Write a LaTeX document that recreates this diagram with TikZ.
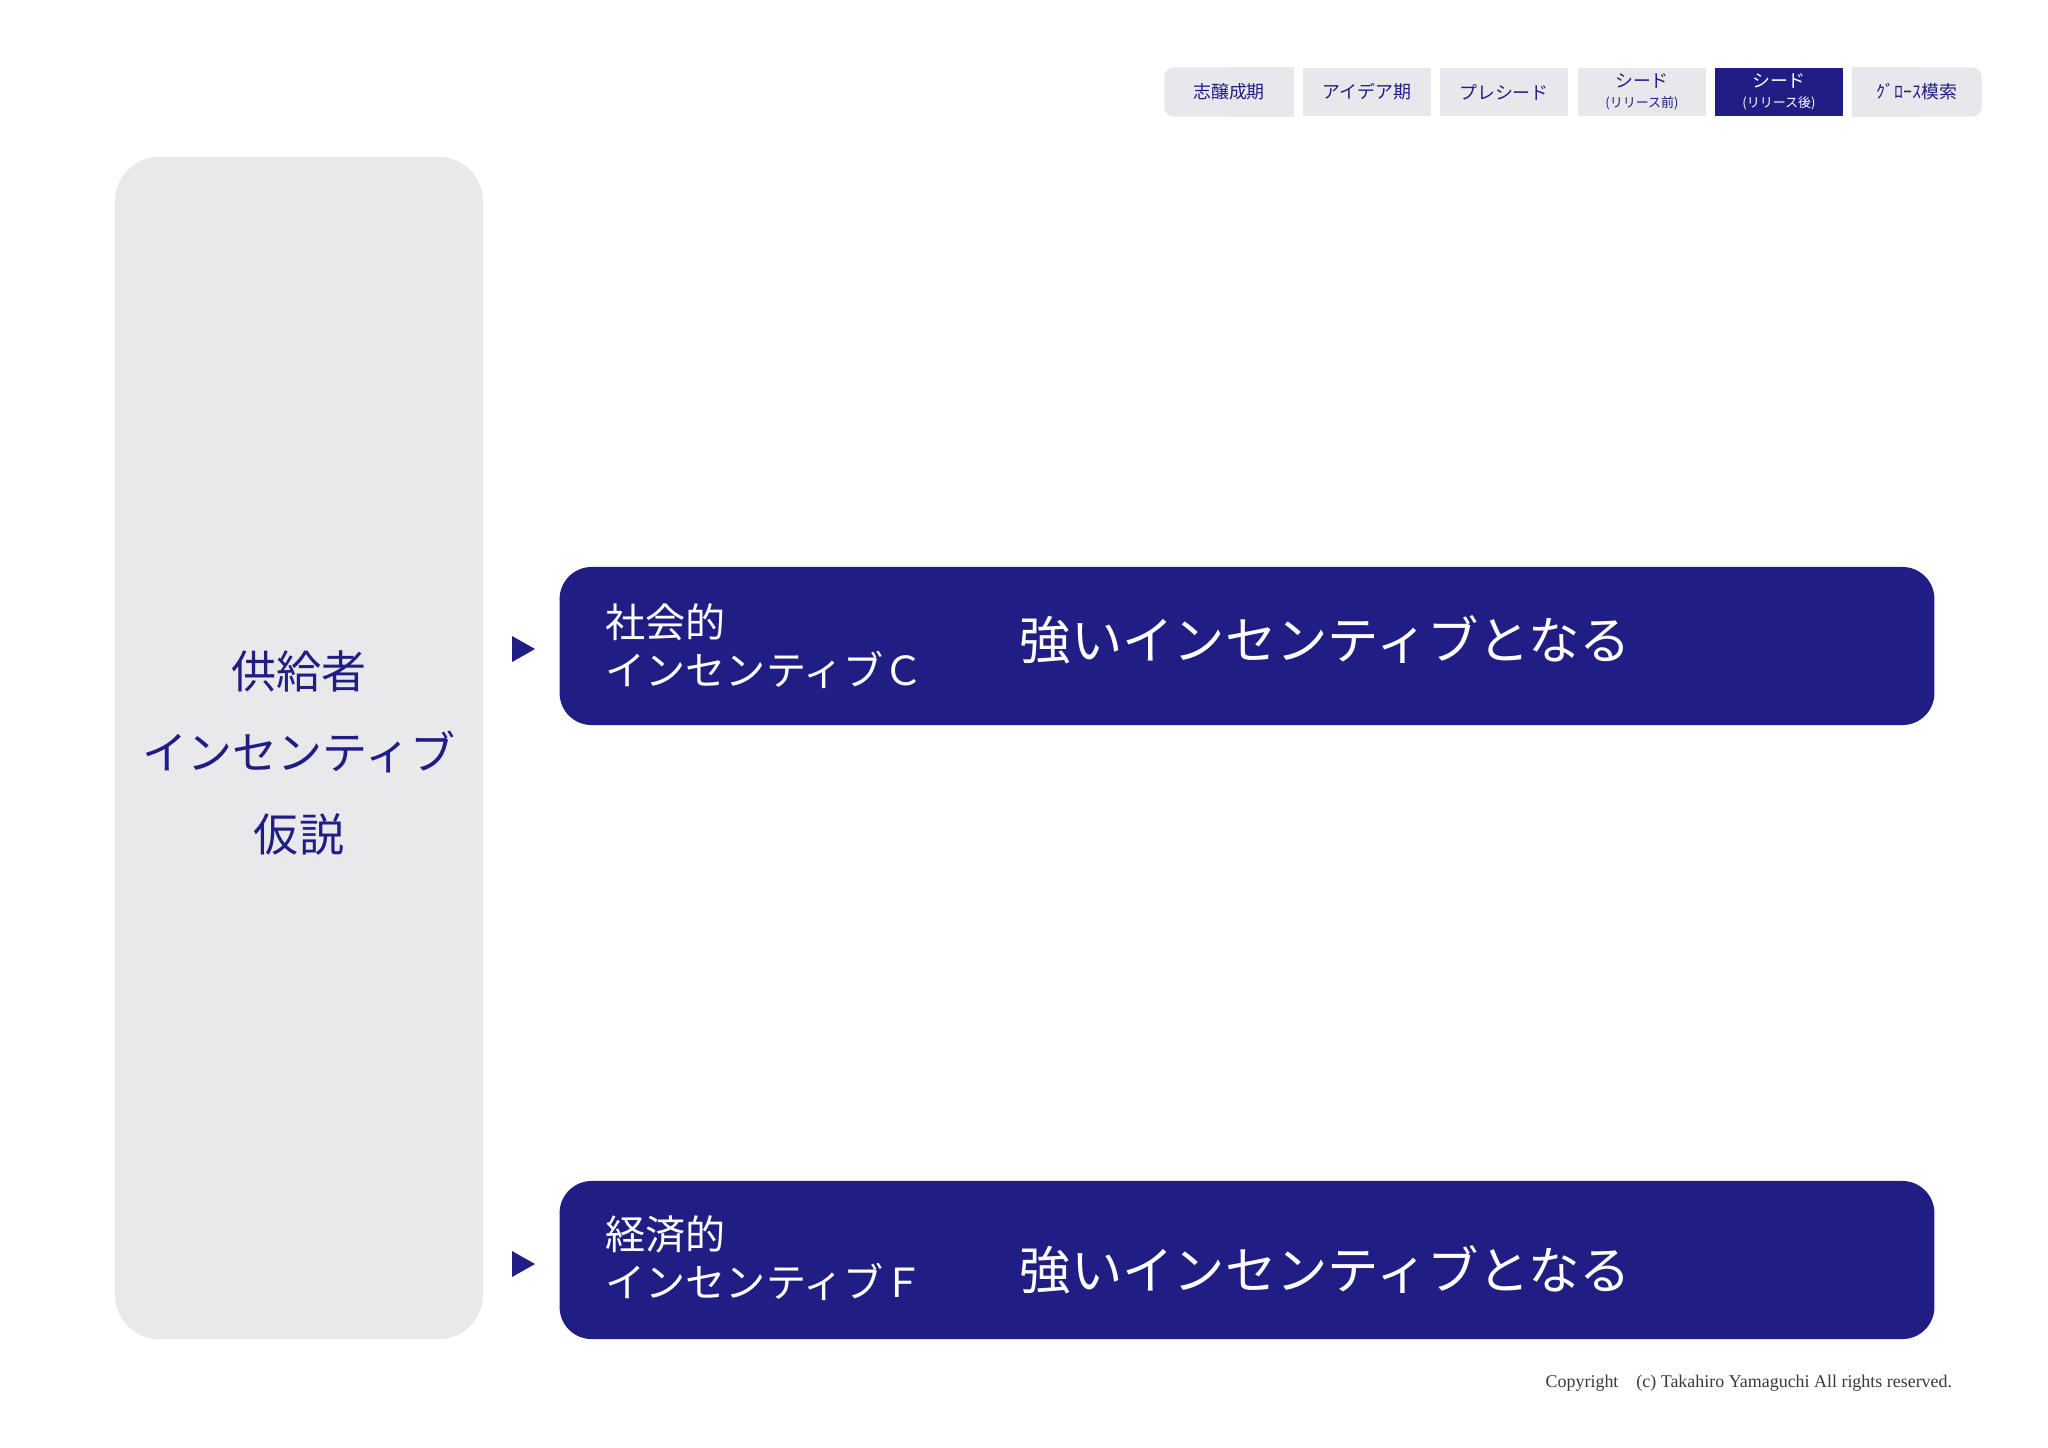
\documentclass[tikz,border=0pt]{standalone}
\usepackage{fontspec}
\setmainfont{Liberation Serif}
\newfontfamily\jp{Noto Sans CJK JP}
\usetikzlibrary{backgrounds}
\definecolor{navy}{RGB}{32,30,133}
\definecolor{tabgray}{RGB}{232,232,236}
\definecolor{boxgray}{RGB}{233,232,235}
\definecolor{copygray}{RGB}{55,55,65}
\tikzset{
  tab/.style={fill=tabgray, minimum width=1.28cm, minimum height=0.48cm, inner sep=0pt,
    text=navy, align=center, font=\jp\fontsize{5.1}{6}\selectfont},
  tabsel/.style={tab, fill=navy, text=white},
  hypbox/.style={fill=boxgray, rounded corners=0.45cm, minimum width=3.68cm, minimum height=11.82cm},
  hyptxt/.style={text=navy, align=center, inner sep=0pt, font=\jp\fontsize{12.8}{23.3}\selectfont},
  incbox/.style={fill=navy, rounded corners=0.32cm, minimum width=13.74cm, minimum height=1.58cm},
  inclab/.style={text=white, align=left, inner sep=0pt, font=\jp\fontsize{11.4}{13.7}\selectfont},
  incval/.style={text=white, inner sep=0pt, font=\jp\fontsize{14.6}{17}\selectfont},
  copyr/.style={text=copygray, inner sep=0pt, font=\fontsize{5.1}{6}\selectfont}
}
\newcommand{\sub}[1]{\\[-0.5pt]{\fontsize{3.7}{4.4}\selectfont #1}}
\begin{document}
\begin{tikzpicture}[x=0.01cm, y=-0.01cm]
\useasboundingbox (0,0) rectangle (2048,1447);
% stage tabs
\node[tab, fill=none] (tab1) at (1229,92) {志醸成期};
\node[tab] (tab2) at (1367,92) {アイデア期};
\node[tab] (tab3) at (1504,92) {プレシード};
\node[tab] (tab4) at (1642,92) {シード\sub{(リリース前)}};
\node[tabsel] (tab5) at (1779,92) {シード\sub{(リリース後)}};
\node[tab, fill=none] (tab6) at (1917,92) {ｸﾞﾛｰｽ模索};
\begin{scope}[on background layer]
  \fill[tabgray, rounded corners=0.1cm] (tab1.north west) rectangle (tab1.south east);
  \fill[tabgray] (tab1.north) rectangle (tab1.south east);
  \fill[tabgray, rounded corners=0.1cm] (tab6.north west) rectangle (tab6.south east);
  \fill[tabgray] (tab6.north west) rectangle (tab6.south);
\end{scope}
% hypothesis
\node[hypbox] (hyp) at (299,748) {};
\node[hyptxt] (hypT) at (299,753) {供給者\\インセンティブ\\仮説};
% incentives
\node[incbox] (boxC) at (1247,646) {};
\node[inclab, anchor=west] (labC) at (605,646) {社会的\\インセンティブＣ};
\node[incval, anchor=west] (valC) at (1019,640) {強いインセンティブとなる};
\node[incbox] (boxF) at (1247,1260) {};
\node[inclab, anchor=west] (labF) at (605,1258) {経済的\\インセンティブＦ};
\node[incval, anchor=west] (valF) at (1019,1270) {強いインセンティブとなる};
% markers
\coordinate (triC) at (523,649);
\coordinate (triF) at (523,1264);
\fill[navy] (triC) ++(-11,-13) -- ++(23,13) -- ++(-23,13) -- cycle;
\fill[navy] (triF) ++(-11,-13) -- ++(23,13) -- ++(-23,13) -- cycle;
\node[copyr, anchor=west] (copy) at (1545,1383) {Copyright\hspace{1em}(c) Takahiro Yamaguchi All rights reserved.};
\end{tikzpicture}
\end{document}
